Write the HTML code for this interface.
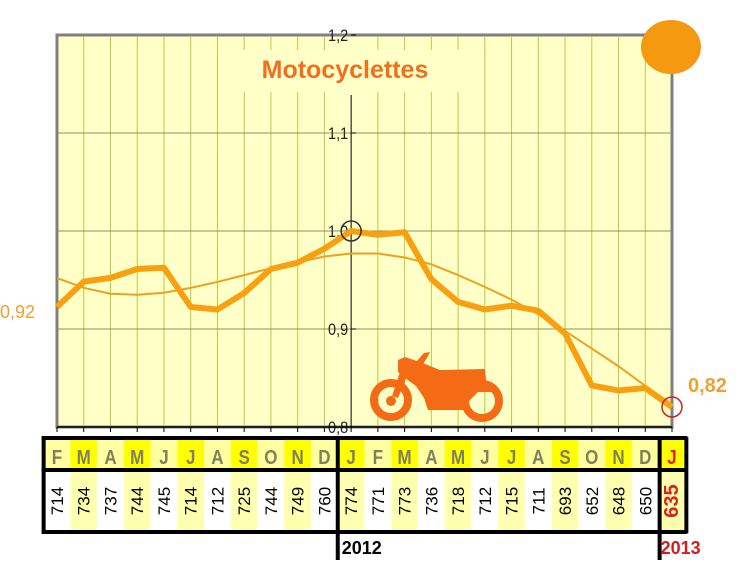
<!DOCTYPE html>
<html><head><meta charset="utf-8"><style>
body{margin:0;background:#fff;width:743px;height:568px;overflow:hidden;font-family:"Liberation Sans",sans-serif}
</style></head><body>
<svg id="c" width="743" height="568" viewBox="0 0 743 568">
<rect x="57" y="35" width="615" height="392" fill="#ffffc8" stroke="#808080" stroke-width="3"/>
<g id="grid"></g>
<rect x="240" y="50" width="220" height="42" fill="#ffffc8"/>
<text x="345" y="78" text-anchor="middle" font-size="25" font-weight="bold" fill="#f07020">Motocyclettes</text>
<g id="moto" fill="#f56a14">
<circle cx="391" cy="400" r="17" fill="none" stroke="#f56a14" stroke-width="8"/>
<circle cx="391" cy="401" r="5"/>
<circle cx="482" cy="401" r="17" fill="none" stroke="#f56a14" stroke-width="8"/>
<path d="M398 360 L405 357 L420 362 L440 370 L485 369 L486 380 L492 392 L478 392 L470 400 L465 410 L428 410 L424 398 L416 386 L405 378 L398 372 Z"/>
<path d="M416 362 L424 353 L430 352 L428 356 L422 366 Z"/>
<path d="M400 372 L407 376 L398 398 L392 396 Z"/>
</g>
<g id="series"></g>
<text x="0" y="318" font-size="18" fill="#f0a030">0,92</text>
<text x="688" y="392" font-size="20" font-weight="bold" fill="#f0a030">0,82</text>
<ellipse cx="671" cy="47" rx="30" ry="27" fill="#f59a10"/>
<g id="table"></g>
</svg>
<script>
const months=["F","M","A","M","J","J","A","S","O","N","D","J","F","M","A","M","J","J","A","S","O","N","D","J"];
const counts=[714,734,737,744,745,714,712,725,744,749,760,774,771,773,736,718,712,715,711,693,652,648,650,635];
const trend=[0.952,0.942,0.936,0.935,0.937,0.942,0.948,0.955,0.962,0.968,0.974,0.977,0.977,0.973,0.966,0.955,0.943,0.93,0.915,0.898,0.88,0.862,0.842,0.823];
const yTicks=[0.8,0.9,1.0,1.1,1.2];
const yTickLabels=["0,8","0,9","1,0","1,1","1,2"];
const base=774;
const NS="http://www.w3.org/2000/svg";
const X=i=>57+i*(615/23);
const Y=v=>427-(v-0.8)/0.4*392;
function mk(t,a,p){const e=document.createElementNS(NS,t);for(const k in a)e.setAttribute(k,a[k]);p.appendChild(e);return e;}
const grid=document.getElementById('grid');
for(let i=1;i<23;i++){if(i===11)continue;const l=mk('line',{x1:X(i),x2:X(i),y1:37,y2:425,stroke:'#b8cc40','stroke-width':1},grid);

}
yTicks.forEach((v,k)=>{if(k>0&&k<4){const l=mk('line',{x1:58,x2:671,y1:Y(v),y2:Y(v),stroke:'#909060','stroke-width':1},grid);

}
const t=mk('text',{x:X(11)-3,y:Y(v)+6,'text-anchor':'end','font-size':17,fill:'#222',transform:`translate(${(X(11)-3)*0.15},0) scale(0.85,1)`},grid);t.textContent=yTickLabels[k];


const tk=mk('line',{x1:X(11),x2:X(11)+5,y1:Y(v),y2:Y(v),stroke:'#000'},grid);

});
const ax=mk('line',{x1:X(11),x2:X(11),y1:95,y2:427,stroke:'#000'},grid);


const xa=mk('line',{x1:57,x2:672,y1:427,y2:427,stroke:'#000','stroke-width':1.5},grid);


for(let i=0;i<24;i++){const t=mk('line',{x1:X(i),x2:X(i),y1:427,y2:432,stroke:'#000'},grid);

}
const s=document.getElementById('series');
const tr=mk('polyline',{points:trend.map((v,i)=>X(i)+','+Y(v)).join(' '),fill:'none',stroke:'#f0a020','stroke-width':2},s);


const ln=mk('polyline',{points:counts.map((c,i)=>X(i)+','+Y(c/base)).join(' '),fill:'none',stroke:'#f8a010','stroke-width':6,'stroke-linejoin':'round'},s);


const c1=mk('circle',{cx:X(11),cy:Y(1),r:10,fill:'none',stroke:'#333','stroke-width':1.5},s);


const c2=mk('circle',{cx:X(23),cy:Y(counts[23]/base),r:10,fill:'none',stroke:'#d02020','stroke-width':1.5},s);


const tb=document.getElementById('table');
const cw=615/23;
for(let i=0;i<24;i++){const x0=X(i)-cw/2;const odd=i%2===1;
const r1=mk('rect',{x:x0,y:440,width:cw,height:29,fill:odd?'#ffff00':'#ffffa0'},tb);


const r2=mk('rect',{x:x0,y:471,width:cw,height:60,fill:odd?'#ffffb0':'#ffffff'},tb);


const last=i===23;
const m=mk('text',{x:0,y:0,'text-anchor':'middle','font-size':20,'font-weight':'bold',fill:last?'#e02020':'#808060',transform:`translate(${X(i)},464) scale(0.85,1)`},tb);m.textContent=months[i];


const v=mk('text',{x:0,y:0,'text-anchor':'middle','font-size':last?20:17,'font-weight':last?'bold':'normal',fill:last?'#e02020':'#000',transform:`translate(${X(i)+6},501) rotate(-90)`},tb);v.textContent=counts[i];

}
const fr=[[X(0)-cw/2-2,438,X(22)+cw/2+2,438],[X(0)-cw/2-2,532,X(22)+cw/2+2,532],[X(0)-cw/2-2,470,X(22)+cw/2+2,470],[X(0)-cw/2,437,X(0)-cw/2,533],
[X(11)-cw/2,437,X(11)-cw/2,560],[X(22)+cw/2+1,437,X(22)+cw/2+1,560],[X(23)+cw/2+1,437,X(23)+cw/2+1,533],[X(23)-cw/2,438,X(23)+cw/2+2,438],[X(23)-cw/2,470,X(23)+cw/2+2,470],[X(23)-cw/2,532,X(23)+cw/2+2,532]];
fr.forEach(f=>{const l=mk('line',{x1:f[0],y1:f[1],x2:f[2],y2:f[3],stroke:'#000','stroke-width':4},tb);

});
const y1=mk('text',{x:X(11)-cw/2+4,y:554,'font-size':18,'font-weight':'bold',fill:'#000'},tb);y1.textContent='2012';


const y2=mk('text',{x:X(23)-cw/2+2,y:554,'font-size':18,'font-weight':'bold',fill:'#d02020'},tb);y2.textContent='2013';


</script>
</body></html>
